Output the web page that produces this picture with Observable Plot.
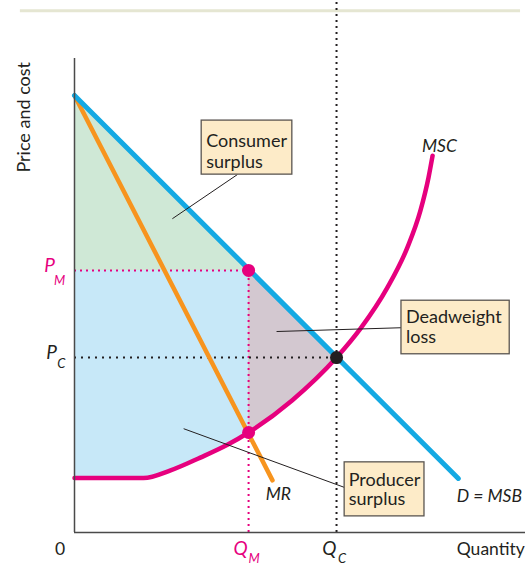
<!DOCTYPE html>
<html><head><meta charset="utf-8">
<script src="https://cdn.jsdelivr.net/npm/d3@7"></script>
<script src="https://cdn.jsdelivr.net/npm/@observablehq/plot@0.6"></script>
<style>body{margin:0;background:#fff;} svg{display:block;}</style>
</head><body><div id="chart"></div>
<script>
// Curves (quantity units 0-100, price units 0-100)
const demandQ = [0, 85.1];
const demandP = [92.2, 11.4];
const mrQ = [0, 43.9];
const mrP = [92.2, 11.0];
const mscQ = [0, 15.3, 21.3, 27.9, 33.9, 38.6, 48.3, 58.1, 63.4, 69.4, 73.8, 76.7, 78.5, 79.4];
const mscP = [11.5, 11.5, 13.1, 15.8, 18.5, 21.1, 27.9, 36.9, 43.0, 51.7, 60.1, 67.9, 74.9, 79.5];
// Key values
const QM = 38.6, PM = 55.3, QC = 58.1, PC = 36.9, MCatQM = 21.1;
const dwlQ = [38.6, 48.3, 58.1];
const dwlLower = [21.1, 27.9, 36.9];
const dwlUpper = [55.3, 46.3, 36.9];
const csQ = [0, 38.6];
const csUpper = [92.2, 55.3];
// Annotation boxes
const boxes = [
  {x1: 28.2, x2: 48.3, y1: 75.5, y2: 86.9, lines: ["Consumer", "surplus"], tx: 29.2, ty: [81.4, 77.0], lx1: 36.1, ly1: 75.5, lx2: 21.7, ly2: 66.2},
  {x1: 72.5, x2: 96.5, y1: 37.6, y2: 48.9, lines: ["Deadweight", "loss"], tx: 73.5, ty: [44.3, 39.9], lx1: 72.5, ly1: 43.2, lx2: 44.8, ly2: 42.4},
  {x1: 59.9, x2: 77.6, y1: 3.4, y2: 14.8, lines: ["Producer", "surplus"], tx: 60.8, ty: [9.9, 5.7], lx1: 59.9, ly1: 9.5, lx2: 24.2, ly2: 21.9}
];
const curveLabels = [
  {t: "MSC", q: 80.9, p: 80.3},
  {t: "MR", q: 45.2, p: 6.8},
  {t: "D = MSB", q: 92.0, p: 6.4}
];
const mainLetters = [
  {t: "P", q: -5.5, p: 54.9, c: "#e6007e"},
  {t: "P", q: -5.1, p: 36.5, c: "#231f20"},
  {t: "Q", q: 36.8, p: -4.8, c: "#e6007e"},
  {t: "Q", q: 56.5, p: -4.8, c: "#231f20"}
];
const subLetters = [
  {t: "M", q: -3.3, p: 52.3, c: "#e6007e"},
  {t: "C", q: -2.9, p: 34.6, c: "#231f20"},
  {t: "M", q: 39.8, p: -6.4, c: "#e6007e"},
  {t: "C", q: 59.3, p: -6.4, c: "#231f20"}
];
const topLine = {p: 110.1, q1: -12, q2: 98.9};

const zip = (a, b, k1, k2) => a.map((v, i) => ({[k1]: v, [k2]: b[i]}));
const demand = zip(demandQ, demandP, "q", "p");
const mr = zip(mrQ, mrP, "q", "p");
const msc = zip(mscQ, mscP, "q", "p");
const ps = msc.filter(d => d.q <= QM).map(d => ({q: d.q, lo: d.p, hi: PM}));
const dwl = dwlQ.map((q, i) => ({q, lo: dwlLower[i], hi: dwlUpper[i]}));
const cs = csQ.map((q, i) => ({q, lo: PM, hi: csUpper[i]}));
const boxLines = boxes.flatMap(b => b.lines.map((t, i) => ({t, q: b.tx, p: b.ty[i]})));

const font = "Lato, 'Noto Sans', sans-serif";
const ink = "#231f20";

const chart = Plot.plot({
  width: 529, height: 568,
  marginLeft: 74, marginRight: 4, marginTop: 58, marginBottom: 36,
  x: {domain: [0, 100], axis: null},
  y: {domain: [0, 100], axis: null},
  style: {fontFamily: font, background: "#fff"},
  marks: [
    Plot.ruleY([topLine], {y: "p", x1: "q1", x2: "q2", stroke: "#e5e6d2", strokeWidth: 3}),
    Plot.areaY(cs, {x: "q", y1: "lo", y2: "hi", fill: "#cfe8d6"}),
    Plot.areaY(ps, {x: "q", y1: "lo", y2: "hi", fill: "#c7e8f8", curve: "monotone-x"}),
    Plot.areaY(dwl, {x: "q", y1: "lo", y2: "hi", fill: "#d3c8d0", curve: "monotone-x"}),
    Plot.ruleY([PM], {x1: 0, x2: QM, stroke: "#e6007e", strokeWidth: 2, strokeDasharray: "2,4"}),
    Plot.ruleX([QM], {y1: 0, y2: PM, stroke: "#e6007e", strokeWidth: 2, strokeDasharray: "2,4"}),
    Plot.ruleY([PC], {x1: 0, x2: QC, stroke: ink, strokeWidth: 2, strokeDasharray: "2,5"}),
    Plot.ruleX([QC], {y1: 0, y2: 112.2, stroke: ink, strokeWidth: 2, strokeDasharray: "2,4"}),
    Plot.line(mr, {x: "q", y: "p", stroke: "#f7941e", strokeWidth: 4.5}),
    Plot.line(demand, {x: "q", y: "p", stroke: "#14a9e3", strokeWidth: 5}),
    Plot.line(msc, {x: "q", y: "p", stroke: "#e6007e", strokeWidth: 4.5, curve: "monotone-x"}),
    Plot.ruleX([0], {y1: 0, y2: 100, stroke: "#4a4a4a", strokeWidth: 1.5}),
    Plot.ruleY([0], {x1: 0, x2: 100, stroke: "#4a4a4a", strokeWidth: 1.5}),
    Plot.dot([{q: QM, p: PM}, {q: QM, p: MCatQM}], {x: "q", y: "p", r: 6.5, fill: "#e6007e"}),
    Plot.dot([{q: QC, p: PC}], {x: "q", y: "p", r: 6.5, fill: ink}),
    Plot.link(boxes, {x1: "lx1", y1: "ly1", x2: "lx2", y2: "ly2", stroke: ink, strokeWidth: 1}),
    Plot.rect(boxes, {x1: "x1", x2: "x2", y1: "y1", y2: "y2", fill: "#fdebc8", stroke: "#5a5550", strokeWidth: 1.3}),
    Plot.text(boxLines, {x: "q", y: "p", text: "t", textAnchor: "start", lineAnchor: "bottom", fontSize: 18, fill: ink}),
    Plot.text(curveLabels, {x: "q", y: "p", text: "t", lineAnchor: "bottom", fontSize: 17.5, fontStyle: "italic", fill: ink}),
    Plot.text(mainLetters, {x: "q", y: "p", text: "t", lineAnchor: "bottom", fontSize: 19, fontStyle: "italic", fill: "c"}),
    Plot.text(subLetters, {x: "q", y: "p", text: "t", lineAnchor: "bottom", fontSize: 13, fontStyle: "italic", fill: "c"}),
    Plot.text([{t: "Quantity", q: 92.3, p: -4.8}, {t: "0", q: -3.2, p: -4.8}], {x: "q", y: "p", text: "t", lineAnchor: "bottom", fontSize: 17.5, fill: ink}),
    Plot.text([{t: "Price and cost", q: -11.2, p: 87.6}], {x: "q", y: "p", text: "t", rotate: -90, fontSize: 18, fill: ink})
  ]
});
document.getElementById("chart").appendChild(chart);
</script>
</body></html>
